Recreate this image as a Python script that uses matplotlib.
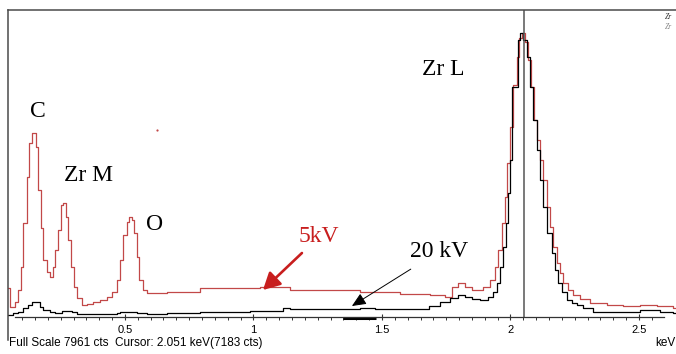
import numpy as np
import matplotlib
matplotlib.use("Agg")
import matplotlib.pyplot as plt

# EDS spectra of the Zr film, 5 kV and 20 kV beam (keV, counts)
e_5kv = [0.045, 0.053, 0.072, 0.084, 0.095, 0.103, 0.119, 0.126, 0.138, 0.154,
         0.161, 0.173, 0.181, 0.196, 0.208, 0.220, 0.228, 0.239, 0.251, 0.259,
         0.270, 0.278, 0.290, 0.302, 0.313, 0.333, 0.352, 0.375, 0.403, 0.430,
         0.449, 0.469, 0.481, 0.492, 0.508, 0.516, 0.527, 0.535, 0.547, 0.554,
         0.570, 0.586, 0.663, 0.792, 0.909, 1.025, 1.142, 1.298, 1.414, 1.570,
         1.687, 1.745, 1.772, 1.796, 1.823, 1.850, 1.870, 1.893, 1.920, 1.940,
         1.951, 1.967, 1.979, 1.986, 1.998, 2.010, 2.025, 2.033, 2.045, 2.056,
         2.068, 2.080, 2.091, 2.103, 2.115, 2.126, 2.142, 2.154, 2.165, 2.181,
         2.193, 2.204, 2.224, 2.243, 2.270, 2.309, 2.375, 2.438, 2.504, 2.570,
         2.632, 2.660]
c_5kv = [705, 209, 339, 653, 1253, 2401, 3602, 4489, 4750, 4385,
         3263, 2271, 1436, 1122, 992, 1253, 1697, 2219, 2871, 2923,
         2558, 1958, 1253, 731, 444, 261, 287, 339, 392, 470,
         600, 914, 1436, 2088, 2427, 2558, 2480, 2140, 1514, 914,
         653, 574, 600, 705, 705, 731, 653, 653, 600, 548,
         522, 470, 731, 835, 731, 653, 653, 731, 914, 1253,
         1697, 2401, 3080, 3967, 4907, 6003, 6734, 7230, 7360, 7125,
         6656, 5951, 5090, 4568, 4046, 3524, 2819, 2297, 1775, 1357,
         1096, 835, 653, 522, 418, 313, 261, 235, 261, 235,
         183, 183]

e_20kv = [0.045, 0.064, 0.084, 0.103, 0.123, 0.138, 0.169, 0.181, 0.208, 0.228,
          0.255, 0.294, 0.313, 0.469, 0.481, 0.547, 0.586, 0.663, 0.792, 0.986,
          1.115, 1.142, 1.337, 1.414, 1.473, 1.683, 1.726, 1.765, 1.796, 1.823,
          1.850, 1.881, 1.912, 1.932, 1.947, 1.959, 1.971, 1.982, 1.990, 1.998,
          2.006, 2.029, 2.037, 2.049, 2.064, 2.076, 2.088, 2.103, 2.115, 2.126,
          2.142, 2.161, 2.173, 2.185, 2.200, 2.220, 2.239, 2.259, 2.282, 2.321,
          2.438, 2.504, 2.582, 2.632, 2.660]
c_20kv = [10, 52, 78, 183, 261, 339, 209, 130, 78, 52,
          104, 78, 26, 52, 78, 52, 26, 52, 78, 104,
          183, 157, 157, 183, 157, 235, 339, 444, 522, 470,
          418, 392, 470, 600, 835, 1253, 1775, 2401, 3184, 4046,
          5951, 7178, 7360, 7178, 6734, 5951, 5090, 4307, 3524, 2819,
          2140, 1618, 1175, 835, 600, 392, 313, 261, 183, 78,
          78, 130, 78, 52, 52]

full_scale = 7961
cursor_kev = 2.051
cursor_cts = 7183

peak_labels = ["C", "Zr M", "O", "Zr L"]
peak_pos = [(0.161, 5300), (0.360, 3650), (0.617, 2350), (1.737, 6400)]

major_ticks = [0.5, 1.0, 1.5, 2.0, 2.5]
major_labels = ["0.5", "1", "1.5", "2", "2.5"]

W, H = 676, 354
fig = plt.figure(figsize=(W / 100, H / 100), dpi=100)
ax = fig.add_axes([8 / W, 1 - 340 / H, 668 / W, 330 / H])
ax.set_xlim(0.045, 2.644)
ax.set_ylim(-652, full_scale)

red_line = "#c24848"
frame = "#4a4a4a"

ax.step(e_5kv, c_5kv, where="post", color=red_line, lw=0.9)
ax.step(e_20kv, c_20kv, where="post", color="black", lw=0.9)

# cursor marker
ax.vlines(cursor_kev, -40, full_scale, color="#555555", lw=1.1)

# frame: only left and top edges, the energy axis floats above the bottom
ax.spines["right"].set_visible(False)
ax.spines["left"].set_color(frame)
ax.spines["top"].set_color(frame)
ax.spines["left"].set_linewidth(1.1)
ax.spines["top"].set_linewidth(1.1)
ax.spines["bottom"].set_position(("axes", (340 - 317) / 330))
ax.spines["bottom"].set_bounds(0.072, 2.597)
ax.spines["bottom"].set_color("#333333")
ax.spines["bottom"].set_linewidth(0.9)

sans = "Liberation Sans"
ax.set_yticks([])
ax.set_xticks(major_ticks)
ax.set_xticklabels(major_labels, fontfamily=sans, fontsize=8)
ax.set_xticks(np.round(np.arange(0.1, 2.6, 0.05), 2), minor=True)
ax.tick_params(axis="x", which="major", direction="inout", length=5, width=0.8,
               color="#333333", pad=3)
ax.tick_params(axis="x", which="minor", direction="out", length=2.5, width=0.7,
               color="#333333")

# region-of-interest bar on the energy axis
ax.plot([1.348, 1.477], [-0.004 + (340 - 317) / 330] * 2, color="black", lw=2.2,
        transform=ax.get_xaxis_transform(), clip_on=False, solid_capstyle="butt")

serif = "Liberation Serif"
fs = 17
for lab, (x, y) in zip(peak_labels, peak_pos):
    ax.text(x, y, lab, fontfamily=serif, fontsize=fs, ha="center", va="center")

ax.annotate("5kV", xy=(1.037, 653), xytext=(1.176, 2040),
            fontfamily=serif, fontsize=fs, color="#c81e1e", ha="left", va="center",
            arrowprops=dict(arrowstyle="-|>,head_length=0.6,head_width=0.32",
                            color="#c81e1e", lw=1.9, shrinkA=3, shrinkB=0))
ax.annotate("20 kV", xy=(1.383, 235), xytext=(1.722, 1660),
            fontfamily=serif, fontsize=fs, color="black", ha="center", va="center",
            arrowprops=dict(arrowstyle="-|>,head_length=0.5,head_width=0.22",
                            color="black", lw=0.7, shrinkA=6, shrinkB=0))

# stray marker dot
ax.plot([0.624], [4830], "o", ms=1.6, color="#c24848", mec="none")

fig.text(8 / W + 0.001, 1 - 343 / H,
         f"Full Scale {full_scale} cts  Cursor: {cursor_kev:.3f} keV({cursor_cts} cts)",
         fontfamily=sans, fontsize=8.5, ha="left", va="center")
fig.text(675 / W, 1 - 343 / H, "keV", fontfamily=sans, fontsize=8.5,
         ha="right", va="center")
fig.text(672 / W, 1 - 17 / H, "Zr", fontfamily=serif, fontsize=5.5, style="italic",
         ha="right", va="center", color="#333333")
fig.text(672 / W, 1 - 27 / H, "Zr", fontfamily=serif, fontsize=5.5, style="italic",
         ha="right", va="center", color="#888888")

fig.savefig("out.png", dpi=100)
